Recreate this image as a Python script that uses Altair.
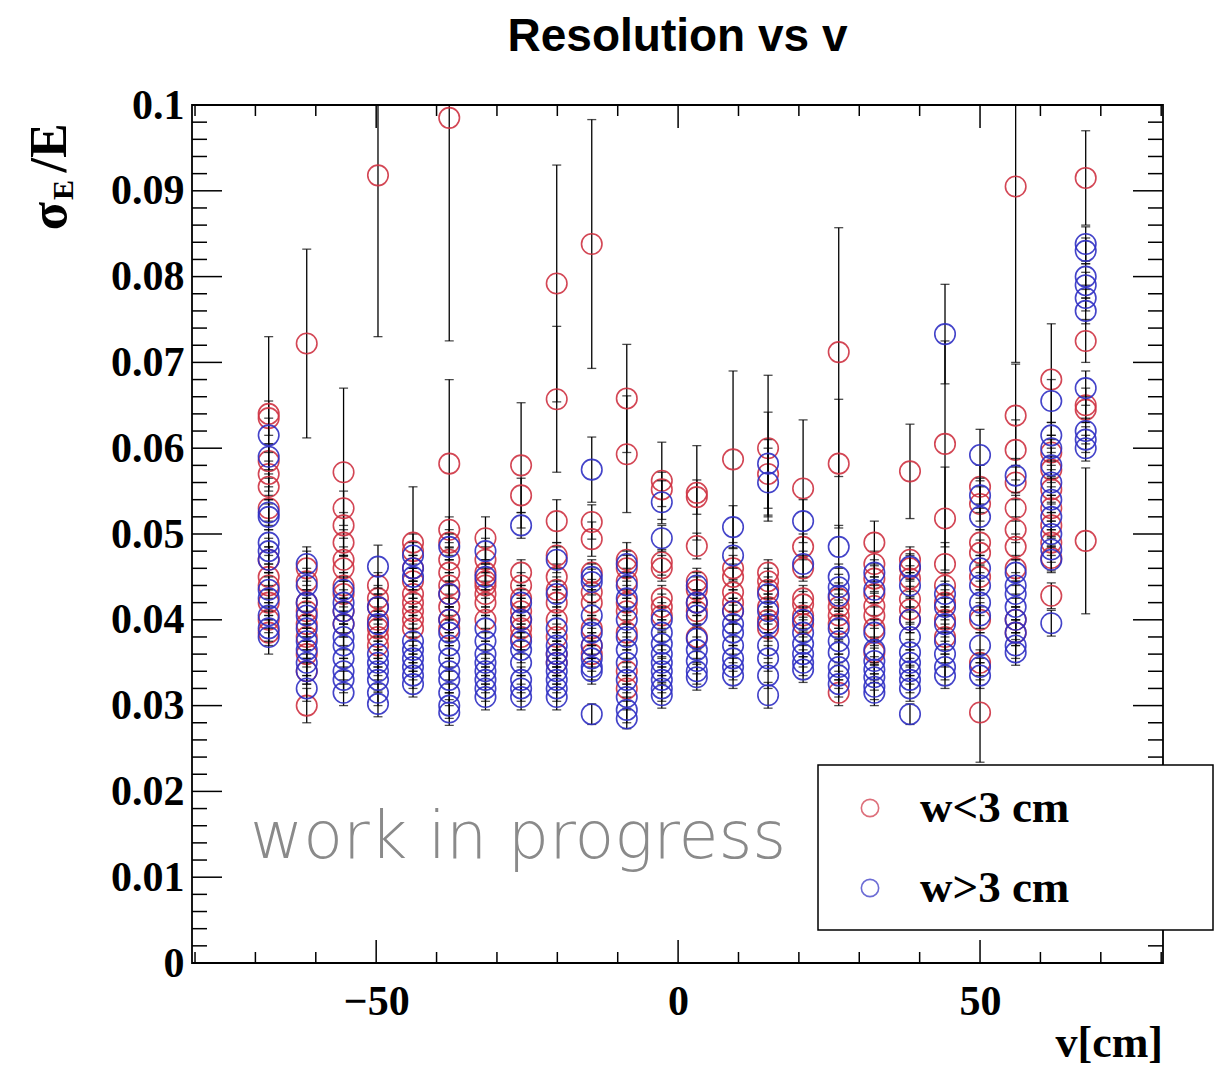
import altair as alt
import pandas as pd

TITLE = "Resolution vs v"
X_TITLE = "v[cm]"
LEGEND_LABELS = ["w<3 cm", "w>3 cm"]
WATERMARK = "work in progress"

# column positions along v [cm]
V_COLUMNS = [-67.8, -61.5, -55.4, -49.7, -43.9, -37.9, -31.9, -26.0, -20.1, -14.3, -8.5, -2.7,
             3.1, 9.1, 14.9, 20.7, 26.6, 32.5, 38.4, 44.2, 50.0, 55.9, 61.8, 67.5]

# (sigma_E/E, error) for w<3 cm, one list per column
RED = [
    [(0.0640, 0.009), (0.0635, 0.002), (0.0585, 0.002), (0.0570, 0.0015), (0.0555, 0.0015), (0.0530, 0.0015),
     (0.0470, 0.0015), (0.0450, 0.0015), (0.0440, 0.0015), (0.0420, 0.0015), (0.0400, 0.0015), (0.0385, 0.0015)],
    [(0.0722, 0.011), (0.0460, 0.002), (0.0445, 0.0015), (0.0420, 0.0015), (0.0410, 0.0015), (0.0395, 0.0015),
     (0.0380, 0.0015), (0.0360, 0.0015), (0.0340, 0.0015), (0.0300, 0.002)],
    [(0.0572, 0.0098), (0.0530, 0.002), (0.0510, 0.0015), (0.0490, 0.0015), (0.0470, 0.0015), (0.0460, 0.0015),
     (0.0440, 0.0015), (0.0430, 0.0015), (0.0410, 0.0015), (0.0395, 0.0015)],
    [(0.0918, 0.0188), (0.0440, 0.0015), (0.0425, 0.0015), (0.0415, 0.0015), (0.0400, 0.0015), (0.0390, 0.0015),
     (0.0380, 0.0015), (0.0370, 0.0015)],
    [(0.0490, 0.0065), (0.0480, 0.002), (0.0460, 0.0015), (0.0445, 0.0015), (0.0430, 0.0015), (0.0420, 0.0015),
     (0.0410, 0.0015), (0.0400, 0.0015), (0.0390, 0.0015)],
    [(0.0985, 0.026), (0.0582, 0.0098), (0.0505, 0.0015), (0.0490, 0.0015), (0.0470, 0.0015), (0.0455, 0.0015),
     (0.0440, 0.0015), (0.0430, 0.0015), (0.0415, 0.0015), (0.0400, 0.0015), (0.0390, 0.0015)],
    [(0.0495, 0.0025), (0.0470, 0.0015), (0.0455, 0.0015), (0.0445, 0.0015), (0.0440, 0.0015), (0.0430, 0.0015),
     (0.0420, 0.0015), (0.0400, 0.0015)],
    [(0.0580, 0.0073), (0.0545, 0.002), (0.0455, 0.0015), (0.0440, 0.0015), (0.0425, 0.0015), (0.0410, 0.0015),
     (0.0400, 0.0015), (0.0390, 0.0015), (0.0380, 0.0015)],
    [(0.0792, 0.0138), (0.0657, 0.0085), (0.0515, 0.0025), (0.0475, 0.0015), (0.0450, 0.0015), (0.0435, 0.0015),
     (0.0420, 0.0015), (0.0400, 0.0015), (0.0380, 0.0015), (0.0360, 0.0015), (0.0350, 0.0015)],
    [(0.0838, 0.0145), (0.0514, 0.002), (0.0494, 0.002), (0.0455, 0.0015), (0.0432, 0.0015), (0.0420, 0.0015),
     (0.0390, 0.0015), (0.0370, 0.0015), (0.0360, 0.0015)],
    [(0.0658, 0.0063), (0.0593, 0.0068), (0.0470, 0.002), (0.0460, 0.0015), (0.0445, 0.0015), (0.0420, 0.0015),
     (0.0410, 0.0015), (0.0385, 0.0015), (0.0340, 0.0015), (0.0320, 0.0015)],
    [(0.0562, 0.0045), (0.0552, 0.002), (0.0467, 0.0015), (0.0460, 0.0015), (0.0425, 0.0015), (0.0415, 0.0015),
     (0.0405, 0.0015)],
    [(0.0548, 0.0055), (0.0543, 0.002), (0.0486, 0.0015), (0.0445, 0.0015), (0.0435, 0.0015), (0.0420, 0.0015),
     (0.0410, 0.0015), (0.0380, 0.0015)],
    [(0.0587, 0.0103), (0.0460, 0.0015), (0.0450, 0.0015), (0.0432, 0.0015), (0.0420, 0.0015), (0.0410, 0.0015)],
    [(0.0600, 0.0085), (0.0570, 0.004), (0.0455, 0.0015), (0.0445, 0.0015), (0.0435, 0.0015), (0.0415, 0.0015),
     (0.0400, 0.0015), (0.0390, 0.0015)],
    [(0.0553, 0.008), (0.0485, 0.0015), (0.0460, 0.0015), (0.0425, 0.0015), (0.0418, 0.0015), (0.0405, 0.0015),
     (0.0395, 0.0015)],
    [(0.0712, 0.0145), (0.0582, 0.0075), (0.0425, 0.0015), (0.0415, 0.0015), (0.0405, 0.0015), (0.0395, 0.0015),
     (0.0315, 0.0015)],
    [(0.0490, 0.0025), (0.0465, 0.0015), (0.0448, 0.0015), (0.0430, 0.0015), (0.0416, 0.0015), (0.0405, 0.0015),
     (0.0390, 0.0015), (0.0362, 0.0015)],
    [(0.0573, 0.0055), (0.0470, 0.0015), (0.0460, 0.0015), (0.0448, 0.0015), (0.0424, 0.0015), (0.0412, 0.0015),
     (0.0400, 0.0015)],
    [(0.0605, 0.012), (0.0518, 0.006), (0.0465, 0.0025), (0.0440, 0.0015), (0.0420, 0.0015), (0.0400, 0.0015),
     (0.0380, 0.0015)],
    [(0.0555, 0.0025), (0.0535, 0.002), (0.0490, 0.0015), (0.0478, 0.0015), (0.0450, 0.0015), (0.0400, 0.0015),
     (0.0350, 0.0015), (0.0292, 0.0058)],
    [(0.0905, 0.0205), (0.0638, 0.006), (0.0598, 0.0035), (0.0560, 0.002), (0.0530, 0.0015), (0.0505, 0.0015),
     (0.0485, 0.0015), (0.0460, 0.0015), (0.0400, 0.0015), (0.0385, 0.0015)],
    [(0.0680, 0.0065), (0.0595, 0.0015), (0.0575, 0.0015), (0.0552, 0.0015), (0.0530, 0.0015), (0.0510, 0.0015),
     (0.0490, 0.0015), (0.0472, 0.0015), (0.0428, 0.0015)],
    [(0.0915, 0.0055), (0.0725, 0.0025), (0.0650, 0.002), (0.0645, 0.0015), (0.0492, 0.0085)],
]

# (sigma_E/E, error) for w>3 cm, one list per column
BLUE = [
    [(0.0615, 0.002), (0.0590, 0.0015), (0.0525, 0.0015), (0.0520, 0.0015), (0.0490, 0.0015), (0.0480, 0.0015),
     (0.0470, 0.0015), (0.0435, 0.0015), (0.0425, 0.0015), (0.0405, 0.0015), (0.0390, 0.0015), (0.0380, 0.002)],
    [(0.0465, 0.002), (0.0440, 0.0015), (0.0420, 0.0015), (0.0405, 0.0015), (0.0390, 0.0015), (0.0375, 0.0015),
     (0.0365, 0.0015), (0.0350, 0.0015), (0.0340, 0.0015), (0.0320, 0.0015)],
    [(0.0435, 0.0015), (0.0420, 0.0015), (0.0410, 0.0015), (0.0395, 0.0015), (0.0380, 0.0015), (0.0370, 0.0015),
     (0.0355, 0.0015), (0.0340, 0.0015), (0.0330, 0.0015), (0.0315, 0.0015)],
    [(0.0462, 0.0025), (0.0415, 0.0015), (0.0395, 0.0015), (0.0360, 0.0015), (0.0350, 0.0015), (0.0340, 0.0015),
     (0.0330, 0.0015), (0.0315, 0.0015), (0.0302, 0.0015)],
    [(0.0475, 0.0015), (0.0460, 0.0015), (0.0450, 0.0015), (0.0375, 0.0015), (0.0365, 0.0015), (0.0355, 0.0015),
     (0.0345, 0.0015), (0.0335, 0.0015), (0.0325, 0.0015)],
    [(0.0485, 0.0015), (0.0430, 0.0015), (0.0400, 0.0015), (0.0385, 0.0015), (0.0370, 0.0015), (0.0355, 0.0015),
     (0.0340, 0.0015), (0.0330, 0.0015), (0.0315, 0.0015), (0.0300, 0.0015), (0.0292, 0.0015)],
    [(0.0480, 0.0015), (0.0450, 0.0015), (0.0390, 0.0015), (0.0375, 0.0015), (0.0360, 0.0015), (0.0350, 0.0015),
     (0.0340, 0.0015), (0.0330, 0.0015), (0.0320, 0.0015), (0.0310, 0.0015)],
    [(0.0510, 0.0015), (0.0420, 0.0015), (0.0400, 0.0015), (0.0375, 0.0015), (0.0365, 0.0015), (0.0350, 0.0015),
     (0.0330, 0.0015), (0.0320, 0.0015), (0.0310, 0.0015)],
    [(0.0470, 0.0015), (0.0430, 0.0015), (0.0390, 0.0015), (0.0370, 0.0015), (0.0360, 0.0015), (0.0350, 0.0015),
     (0.0340, 0.0015), (0.0330, 0.0015), (0.0320, 0.0015), (0.0310, 0.0015)],
    [(0.0575, 0.0038), (0.0450, 0.0015), (0.0444, 0.0015), (0.0405, 0.0015), (0.0385, 0.0015), (0.0370, 0.0015),
     (0.0355, 0.0015), (0.0345, 0.0015), (0.0340, 0.0015), (0.0290, 0.0012)],
    [(0.0465, 0.0015), (0.0440, 0.0015), (0.0425, 0.0015), (0.0400, 0.0015), (0.0380, 0.0015), (0.0365, 0.0015),
     (0.0350, 0.0015), (0.0330, 0.0015), (0.0310, 0.0015), (0.0295, 0.0015), (0.0285, 0.0012)],
    [(0.0537, 0.0025), (0.0495, 0.0015), (0.0400, 0.0015), (0.0385, 0.0015), (0.0372, 0.0015), (0.0360, 0.0015),
     (0.0350, 0.0015), (0.0340, 0.0015), (0.0330, 0.0015), (0.0320, 0.0015), (0.0312, 0.0015)],
    [(0.0440, 0.0015), (0.0420, 0.0015), (0.0405, 0.0015), (0.0378, 0.0015), (0.0365, 0.0015), (0.0352, 0.0015),
     (0.0340, 0.0015), (0.0333, 0.0015)],
    [(0.0508, 0.0025), (0.0475, 0.0015), (0.0410, 0.0015), (0.0395, 0.0015), (0.0385, 0.0015), (0.0370, 0.0015),
     (0.0355, 0.0015), (0.0345, 0.0015), (0.0335, 0.0015)],
    [(0.0582, 0.006), (0.0560, 0.004), (0.0430, 0.0015), (0.0410, 0.0015), (0.0395, 0.0015), (0.0370, 0.0015),
     (0.0355, 0.0015), (0.0335, 0.0015), (0.0312, 0.0015)],
    [(0.0515, 0.0025), (0.0465, 0.0015), (0.0400, 0.0015), (0.0385, 0.0015), (0.0372, 0.0015), (0.0360, 0.0015),
     (0.0350, 0.0015), (0.0342, 0.0015)],
    [(0.0485, 0.0025), (0.0450, 0.0015), (0.0438, 0.0015), (0.0428, 0.0015), (0.0390, 0.0015), (0.0375, 0.0015),
     (0.0362, 0.0015), (0.0345, 0.0015), (0.0335, 0.0015), (0.0325, 0.0015)],
    [(0.0455, 0.0015), (0.0435, 0.0015), (0.0385, 0.0015), (0.0365, 0.0015), (0.0352, 0.0015), (0.0342, 0.0015),
     (0.0333, 0.0015), (0.0322, 0.0015), (0.0315, 0.0015)],
    [(0.0462, 0.0015), (0.0440, 0.0015), (0.0400, 0.0015), (0.0380, 0.0015), (0.0362, 0.0015), (0.0350, 0.0015),
     (0.0340, 0.0015), (0.0330, 0.0015), (0.0320, 0.0015), (0.0290, 0.0012)],
    [(0.0733, 0.0058), (0.0430, 0.0015), (0.0415, 0.0015), (0.0395, 0.0015), (0.0375, 0.0015), (0.0360, 0.0015),
     (0.0345, 0.0015), (0.0335, 0.0015)],
    [(0.0592, 0.003), (0.0545, 0.002), (0.0520, 0.0015), (0.0460, 0.0015), (0.0440, 0.0015), (0.0420, 0.0015),
     (0.0405, 0.0015), (0.0370, 0.0015), (0.0345, 0.0015), (0.0335, 0.0015)],
    [(0.0568, 0.002), (0.0455, 0.0015), (0.0440, 0.0015), (0.0430, 0.0015), (0.0415, 0.0015), (0.0400, 0.0015),
     (0.0385, 0.0015), (0.0370, 0.0015), (0.0362, 0.0015)],
    [(0.0655, 0.0025), (0.0615, 0.0015), (0.0600, 0.0015), (0.0580, 0.0015), (0.0560, 0.0015), (0.0540, 0.0015),
     (0.0520, 0.0015), (0.0500, 0.0015), (0.0482, 0.0015), (0.0470, 0.0015), (0.0396, 0.0015)],
    [(0.0838, 0.002), (0.0830, 0.0015), (0.0800, 0.0015), (0.0790, 0.0015), (0.0775, 0.0015), (0.0760, 0.0015),
     (0.0670, 0.002), (0.0620, 0.0015), (0.0610, 0.0015), (0.0600, 0.0015)],
]

X_LABEL_VALUES = [-50, 0, 50]
X_MINOR_TICKS = [-80, -70, -60, -40, -30, -20, -10, 10, 20, 30, 40, 60, 70, 80]
Y_LABEL_VALUES = [0, 0.01, 0.02, 0.03, 0.04, 0.05, 0.06, 0.07, 0.08, 0.09, 0.1]
Y_MINOR_TICKS = [round(k * 0.002, 3) for k in range(51) if k % 5 != 0]

COLORS = ["#cf3242", "#2f2fc4"]

# ---- geometry ----
W, H = 971, 858
SERIF = "Liberation Serif"

rows = []
for label, cols in ((LEGEND_LABELS[0], RED), (LEGEND_LABELS[1], BLUE)):
    for v, pts in zip(V_COLUMNS, cols):
        for val, err in pts:
            rows.append({"v": v, "res": val, "lo": val - err, "hi": val + err, "series": label})
df = pd.DataFrame(rows)

xscale = alt.Scale(domain=[-80.5, 80.3], nice=False, zero=False)
yscale = alt.Scale(domain=[0, 0.1], nice=False, zero=False)
cscale = alt.Scale(domain=LEGEND_LABELS, range=COLORS)

XAXIS = alt.Axis(values=X_LABEL_VALUES, ticks=False, domain=False, grid=False, title=None,
                 labelFont=SERIF, labelFontWeight="bold", labelFontSize=42,
                 labelColor="black", labelPadding=18, labelOverlap=False, labelFlush=False)
YAXIS = alt.Axis(values=Y_LABEL_VALUES, ticks=False, domain=False, grid=False, title=None,
                 format="~g", labelFont=SERIF, labelFontWeight="bold", labelFontSize=42,
                 labelColor="black", labelPadding=8, labelOverlap=False, labelFlush=False)


def X(field):
    return alt.X(field, scale=xscale, axis=XAXIS)


def Y(field):
    return alt.Y(field, scale=yscale, axis=YAXIS)


layers = []
for i, label in enumerate(LEGEND_LABELS):
    sub = df[df.series == label]
    base = alt.Chart(sub)
    layers.append(base.mark_rule(color="black", strokeWidth=1.3, clip=True).encode(
        x=X("v:Q"), y=Y("lo:Q"), y2="hi:Q"))
    for end in ("lo", "hi"):
        layers.append(base.mark_tick(color="black", orient="horizontal", size=9, thickness=1.3,
                                     clip=True).encode(x=X("v:Q"), y=Y(f"{end}:Q")))
    layers.append(base.mark_point(shape="circle", filled=False, size=420, strokeWidth=1.6,
                                  opacity=0.9).encode(
        x=X("v:Q"), y=Y("res:Q"),
        color=alt.Color("series:N", scale=cscale, legend=None)))


def xticks(values, length):
    d = alt.Chart(pd.DataFrame({"t": values}))
    return [d.mark_rule(color="black", strokeWidth=1.5).encode(
                x=X("t:Q"), y=alt.value(H), y2=alt.value(H - length)),
            d.mark_rule(color="black", strokeWidth=1.5).encode(
                x=X("t:Q"), y=alt.value(0), y2=alt.value(length))]


def yticks(values, length):
    d = alt.Chart(pd.DataFrame({"t": values}))
    return [d.mark_rule(color="black", strokeWidth=1.5).encode(
                y=Y("t:Q"), x=alt.value(0), x2=alt.value(length)),
            d.mark_rule(color="black", strokeWidth=1.5).encode(
                y=Y("t:Q"), x=alt.value(W), x2=alt.value(W - length))]


tick_layers = (xticks(X_MINOR_TICKS, 11) + xticks(X_LABEL_VALUES, 23)
               + yticks(Y_MINOR_TICKS, 15) + yticks(Y_LABEL_VALUES, 30))

one = pd.DataFrame({"k": [0]})


def text(t, x, y, size, font, weight="bold", align="center", baseline="middle", angle=0, color="black"):
    return alt.Chart(pd.DataFrame({"t": [t]})).mark_text(
        font=font, fontSize=size, fontWeight=weight, align=align, baseline=baseline,
        angle=angle, color=color).encode(text="t:N", x=alt.value(x), y=alt.value(y))


annotations = [
    text(TITLE, W / 2, -68, 46, "Liberation Sans"),
    text(X_TITLE, W, 952, 44, SERIF, align="right", baseline="alphabetic"),
    text("σ", -126, 111, 52, SERIF, baseline="alphabetic", angle=270),
    text("E", -119, 85, 30, SERIF, baseline="alphabetic", angle=270),
    text("/E", -126, 43, 52, SERIF, baseline="alphabetic", angle=270),
    text(WATERMARK, 58, 753, 65, "DejaVu Sans", weight=300, align="left", baseline="alphabetic",
         color="#8a8a8a"),
]

legend_df = pd.DataFrame({"series": LEGEND_LABELS, "row": [703, 783]})
legend = [
    alt.Chart(one).mark_rect(fill="white", stroke="black", strokeWidth=1.5).encode(
        x=alt.value(626), x2=alt.value(1021), y=alt.value(660), y2=alt.value(825)),
    alt.Chart(legend_df).mark_point(shape="circle", filled=False, size=300, strokeWidth=1.6).encode(
        x=alt.value(678), y=alt.Y("row:Q", scale=None, axis=None),
        color=alt.Color("series:N", scale=cscale, legend=None)),
    alt.Chart(legend_df).mark_text(font=SERIF, fontSize=45, fontWeight="bold", align="left",
                                   baseline="middle", color="black").encode(
        x=alt.value(728), y=alt.Y("row:Q", scale=None, axis=None), text="series:N"),
]

chart = alt.layer(*tick_layers, *layers, *annotations, *legend).properties(
    width=W, height=H,
    background="white",
    padding={"left": 192, "top": 105, "right": 52, "bottom": 107},
    autosize=alt.AutoSizeParams(type="none"),
).configure_view(stroke="black", strokeWidth=1.8)

chart.save("out.html", embed_options={"renderer": "svg", "actions": False})
